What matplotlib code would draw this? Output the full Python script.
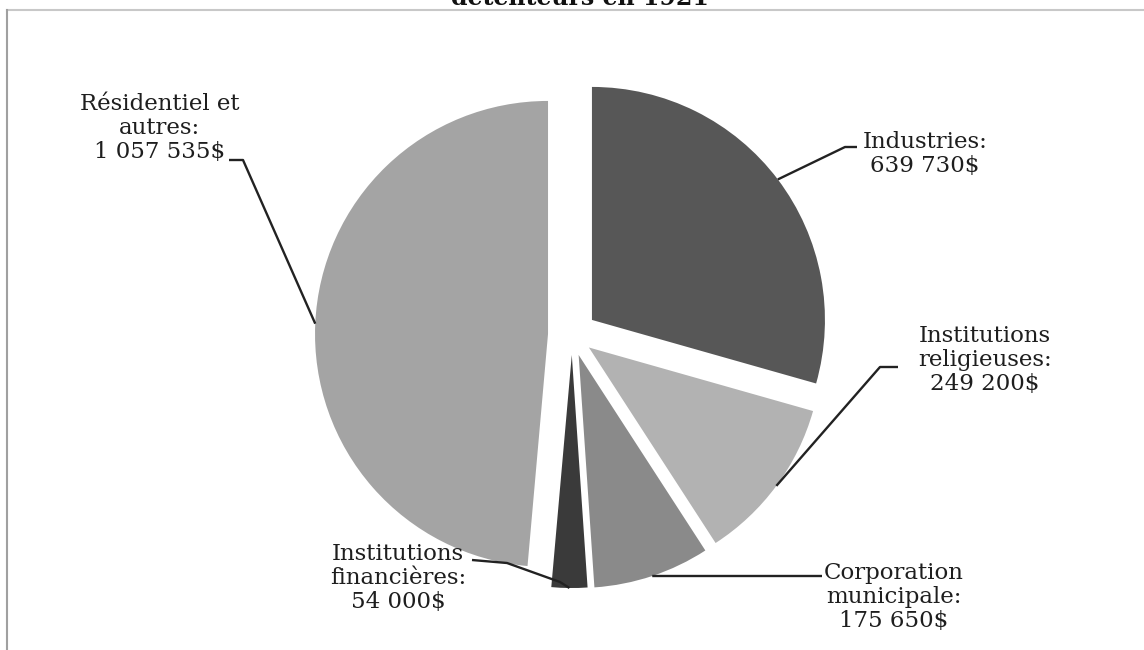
import numpy as np
import matplotlib.pyplot as plt

labels = ["Industries", "Institutions religieuses", "Corporation municipale",
          "Institutions financières", "Résidentiel et autres"]
texts = ["Industries:\n639 730$", "Institutions\nreligieuses:\n249 200$",
         "Corporation\nmunicipale:\n175 650$", "Institutions\nfinancières:\n54 000$",
         "Résidentiel et\nautres:\n1 057 535$"]
values = [639730, 249200, 175650, 54000, 1057535]
colors = ["#575757", "#b2b2b2", "#8a8a8a", "#3a3a3a", "#a4a4a4"]
title = "détenteurs en 1921"

W, H = 1144, 650
CX, CY, R = 572, 335, 233
explode = [25, 21, 21, 20, 24]   # in pixels, radius is in pixels too

# label centre (px, y from top) and leader path points from the label to the pie edge
label_pos = [(925, 154), (985, 360), (894, 597), (398, 578), (160, 128)]
leader_pts = [[(857, 147), (845, 147)],
              [(898, 367), (880, 367)],
              [(822, 576)],
              [(472, 560), (507, 563), (560, 582)],
              [(229, 160), (243, 160)]]

fig = plt.figure(figsize=(W / 100, H / 100), dpi=100)
ax = fig.add_axes([0, 0, 1, 1])

wedges, _ = ax.pie(values, colors=colors, startangle=90, counterclock=False,
                   radius=R, center=(CX, H - CY), explode=explode,
                   wedgeprops=dict(linewidth=0))
ax.set_xlim(0, W); ax.set_ylim(0, H)
ax.set_aspect("equal"); ax.axis("off")

for w, txt, (lx, ly), pts in zip(wedges, texts, label_pos, leader_pts):
    ang = np.deg2rad((w.theta1 + w.theta2) / 2)
    ex = w.center[0] + R * np.cos(ang)
    ey = w.center[1] + R * np.sin(ang)
    xs = [p[0] for p in pts] + [ex]
    ys = [H - p[1] for p in pts] + [ey]
    ax.plot(xs, ys, color="#222222", lw=1.7, solid_capstyle="butt")
    ax.text(lx, H - ly, txt, ha="center", va="center", fontsize=16.5,
            family="DejaVu Serif", color="#1e1e1e", linespacing=1.12)

# scanned frame + cropped title
ax.plot([7, W], [H - 10, H - 10], color="#c8c8c8", lw=1.5)
ax.plot([7, 7], [0, H - 10], color="#a0a0a0", lw=1.5)
ax.text(580, H - 5, title, ha="center", va="baseline", fontsize=17,
        fontweight="bold", family="DejaVu Serif", color="#111111")

fig.savefig("out.png", dpi=100)
